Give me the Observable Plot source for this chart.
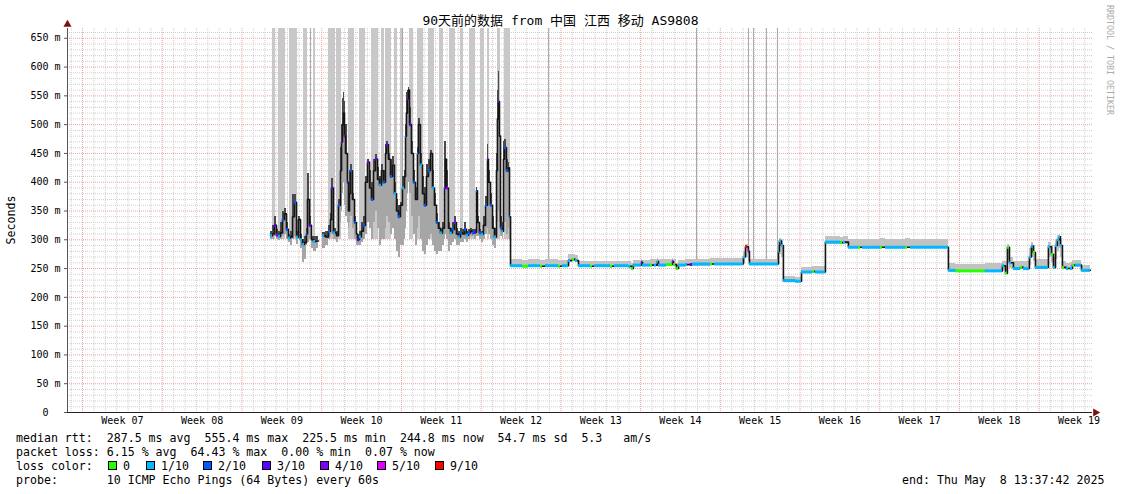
<!DOCTYPE html>
<html>
<head>
<meta charset="utf-8">
<script src="https://cdn.jsdelivr.net/npm/d3@7"></script>
<script src="https://cdn.jsdelivr.net/npm/@observablehq/plot@0.6"></script>
<style>
  body { margin: 0; background: #fff; }
  #wrap { position: relative; width: 1121px; height: 494px; overflow: hidden;
          font-family: 'DejaVu Sans Mono', 'Noto Sans CJK SC', monospace; color: #000; }
  #chart { position: absolute; left: 0; top: 0; }
  .abs { position: absolute; white-space: pre; line-height: 14px; font-size: 11.6px; }
  .title { position: absolute; left: 0; top: 13px; width: 1121px; text-align: center;
           font-size: 13px; line-height: 16px; white-space: pre; }
  .ylab { position: absolute; left: 11px; top: 220px; font-size: 11.6px; white-space: pre;
          transform: translate(-50%, -50%) rotate(-90deg); }
  .credit { position: absolute; left: 1110px; top: 60px; font-size: 8.3px; color: #aaa; white-space: pre;
            transform: translate(-50%, -50%) rotate(90deg); }
  .sq { position: absolute; width: 7px; height: 7px; border: 1px solid #000; top: 461px; }
</style>
</head>
<body>
<div id="wrap"><div id="chart"></div></div>
<script>
// ---------------- data (x = days since graph start, y = milliseconds) ----------------
const titleText = "90天前的数据 from 中国 江西 移动 AS9808";
const yAxisTitle = "Seconds";
const creditText = "RRDTOOL / TOBI OETIKER";

const weekLabels = ["Week 07","Week 08","Week 09","Week 10","Week 11","Week 12","Week 13",
                    "Week 14","Week 15","Week 16","Week 17","Week 18","Week 19"];
const firstWeekBoundary = 1.32;   // days after start of first week boundary
const spanDays = 90;
const yMax = 667;
const yTickValues = [0,50,100,150,200,250,300,350,400,450,500,550,600,650];

const lossColors = ["#26ff00","#00b8ff","#0059ff","#5e00ff","#7e00ff","#dd00ff","#ff0000"];
const lossLabels = ["0","1/10","2/10","3/10","4/10","5/10","9/10"];

const rttStats = "median rtt:  287.5 ms avg  555.4 ms max  225.5 ms min  244.8 ms now  54.7 ms sd  5.3   am/s";
const lossStats = "packet loss: 6.15 % avg  64.43 % max  0.00 % min  0.07 % now";
const probeText = "probe:       10 ICMP Echo Pings (64 Bytes) every 60s";
const endText = "end: Thu May  8 13:37:42 2025";

// [day, median, smoke low, smoke high, loss index (-1 = none)]
const spikyPeriod = [
  [17.82,307,300,315,1],[18.00,310,300,325,-1],[18.17,325,305,340,3],[18.35,308,300,318,4],
  [18.53,306,298,315,1],[18.70,312,300,330,-1],[18.88,335,305,350,2],[19.05,345,310,355,-1],
  [19.23,318,300,330,2],[19.40,303,295,310,1],[19.58,305,290,315,-1],[19.76,340,300,378,-1],
  [19.93,365,305,378,2],[20.11,305,292,315,1],[20.28,335,300,340,-1],[20.46,300,285,310,1],
  [20.63,292,260,300,1],[20.81,295,265,305,-1],[20.98,310,290,320,2],[21.07,370,295,415,-1],
  [21.25,325,300,340,3],[21.42,300,285,305,-1],[21.60,297,280,305,1],[21.86,298,285,305,-1],
  [22.04,null,null,null,-1],
  [22.39,307,285,312,1],[22.65,305,290,315,-1],[22.92,315,300,325,2],[23.09,335,305,345,-1],
  [23.18,390,310,407,3],[23.35,312,300,320,1],[23.62,307,295,315,-1],[23.79,360,305,370,2],
  [23.97,420,330,460,-1],[24.06,470,350,500,4],[24.15,500,380,545,-1],[24.23,520,400,555,-1],
  [24.32,480,360,540,4],[24.41,450,340,500,-1],[24.58,400,330,430,3],[24.67,350,320,370,-1],
  [24.76,380,330,420,-1],[24.85,420,340,430,2],[25.02,370,320,380,-1],[25.20,330,300,340,2],
  [25.37,310,290,320,-1],[25.46,300,290,310,3],[25.64,305,290,315,1],[25.81,315,295,330,-1],
  [25.99,325,300,340,2],[26.16,400,310,410,-1],[26.34,435,330,440,4],[26.52,390,320,420,-1],
  [26.69,370,300,400,2],[26.87,420,330,440,-1],[27.04,440,350,448,3],[27.22,405,320,425,-1],
  [27.39,395,290,410,1],[27.57,420,300,430,-1],[27.74,400,300,420,2],[27.92,450,320,465,-1],
  [28.01,465,340,470,3],[28.18,440,330,450,-1],[28.36,410,310,440,2],[28.54,430,320,445,-1],
  [28.71,380,300,400,1],[28.89,350,280,370,-1],[29.06,340,270,360,2],[29.24,360,290,365,-1],
  [29.41,390,290,410,1],[29.59,410,300,420,-1],[29.68,480,320,500,2],[29.76,520,350,555,-1],
  [29.85,545,380,560,4],[29.94,560,400,565,-1],[30.03,500,380,530,3],[30.20,450,340,470,-1],
  [30.38,400,310,420,2],[30.55,370,290,390,-1],[30.73,450,320,460,2],[30.82,500,340,510,-1],
  [30.99,430,300,450,1],[31.17,380,280,410,-1],[31.34,360,275,390,2],[31.52,410,290,430,-1],
  [31.70,420,300,440,2],[31.87,450,310,455,-1],[32.05,390,290,420,1],[32.22,360,280,380,-1],
  [32.40,330,275,345,2],[32.57,320,280,330,-1],[32.75,312,280,318,1],[32.93,320,290,330,-1],
  [33.10,390,300,470,4],[33.19,440,310,470,-1],[33.28,390,300,420,4],[33.45,320,280,330,-1],
  [33.63,312,290,320,1],[33.80,318,295,330,2],[33.98,330,300,340,4],[34.15,310,290,320,-1],
  [34.33,305,290,315,1],[34.51,312,295,320,2],[34.68,310,295,318,-1],[34.86,318,300,330,2],
  [35.03,308,295,315,1],[35.21,312,300,318,2],[35.38,315,305,320,-1],[35.56,312,305,318,2],
  [35.73,313,300,318,3],[35.91,385,305,390,2],[36.00,330,305,340,-1],[36.17,312,300,318,2],
  [36.35,310,295,315,1],[36.52,325,300,340,-1],[36.70,360,310,375,2],[36.88,440,320,465,4],
  [36.96,400,310,420,-1],[37.14,360,300,380,2],[37.32,320,290,340,-1],[37.49,305,285,320,1],
  [37.67,420,300,450,-1],[37.75,510,330,560,-1],[37.84,540,350,592,4],[37.93,480,330,520,-1],
  [38.02,320,305,340,2],[38.19,315,300,330,1],[38.28,440,320,470,-1],[38.37,460,330,475,2],
  [38.54,420,310,440,2],[38.72,425,320,435,-1],[38.81,340,300,400,2]
];

const steadyPeriod = [
  [38.90,255,252,265,1],[39.95,254,251,264,0],[40.48,255,252,266,1],[41.53,254,251,264,0],
  [41.97,255,252,265,1],[43.11,254,251,264,0],[43.46,255,252,264,1],[43.99,264,260,274,1],
  [44.34,266,262,275,0],[44.60,264,260,273,1],[44.87,255,252,262,1],[45.92,254,252,262,0],
  [46.27,255,252,263,1],[47.68,254,252,262,0],[48.03,255,252,262,1],[49.26,254,251,262,1],
  [49.52,250,248,258,0],[49.69,256,253,264,1],[50.40,261,255,266,3],[50.49,256,253,264,1],
  [51.19,256,253,265,0],[51.54,256,253,265,1],[51.80,262,255,268,1],[51.89,256,253,265,1],
  [52.59,257,254,265,0],[53.12,262,256,268,4],[53.21,257,254,265,0],[53.47,250,248,258,0],
  [53.65,256,253,264,1],[54.26,257,254,265,1],[54.70,257,254,266,3],[54.88,258,254,266,1],
  [56.46,258,255,267,0],[56.81,258,255,267,1],[59.35,270,258,280,1],[59.53,288,270,292,6],
  [59.79,280,262,290,4],[59.88,258,255,266,1],[62.43,280,260,290,1],[62.51,298,275,302,1],
  [62.69,290,270,300,1],[62.86,229,226,236,1],[63.92,228,225,235,1],[64.45,244,241,252,1],
  [65.41,245,242,253,0],[65.67,244,241,253,1],[66.55,296,292,305,1],[67.87,295,292,304,0],
  [68.13,296,292,305,1],[68.57,287,285,300,1],[69.45,287,285,300,0],[69.80,287,285,300,1],
  [71.38,287,285,302,0],[71.82,287,285,300,1],[73.58,287,285,302,0],[74.02,287,285,300,1],
  [77.35,247,244,258,1],[77.97,246,244,257,0],[80.60,246,244,258,1],[82.09,255,246,262,1],
  [82.36,242,240,262,0],[82.53,287,265,292,0],[82.71,260,250,270,1],[83.06,250,247,262,1],
  [83.67,252,248,262,0],[83.94,250,247,262,1],[84.46,270,255,285,1],[84.64,289,270,295,1],
  [84.81,278,262,290,0],[84.99,252,249,265,1],[86.13,288,270,295,1],[86.40,275,260,290,0],
  [86.57,252,250,270,1],[86.75,290,265,300,1],[86.92,300,280,308,1],[87.10,305,285,310,1],
  [87.19,290,270,300,1],[87.36,252,248,262,0],[87.71,250,248,258,1],[88.06,250,248,260,1],
  [88.24,256,252,264,0],[88.50,256,252,264,1],[89.03,247,244,256,1],[89.82,null,null,null,-1]
];

// periods where some pings exceeded the top of the graph: [start day, end day, lower value]
const offScaleBands = [
  [18.04,18.26,300],[18.53,19.14,300],[19.49,20.19,300],[20.68,21.03,300],[21.56,21.77,300],
  [22.92,23.53,300],[23.66,24.06,300],[24.67,25.20,300],[25.64,26.16,300],[26.65,27.31,300],
  [27.61,27.83,300],[27.96,28.49,300],[28.67,28.97,300],[29.24,29.50,300],[30.03,30.38,300],
  [30.73,31.26,300],[31.70,32.22,300],[32.66,33.01,300],[33.50,34.07,300],[34.51,34.77,300],
  [35.34,35.82,300],[36.26,36.61,300],[36.88,37.01,300],[37.75,38.02,300],[38.37,38.90,300]
];
// single-step off-scale pings: [day, lower value]
const offScaleSpikes = [
  [21.34,310],[29.41,330],[42.23,262],[55.23,265],[59.79,290],[60.23,265],[61.37,265],[62.34,265]
];

// ---------------- derived structures ----------------
function toSteps(list, next, period) {
  const out = [];
  for (let i = 0; i < list.length; i++) {
    const [start, med, lo, hi, loss] = list[i];
    const nxt = i + 1 < list.length ? list[i + 1] : next;
    if (!nxt) break;
    out.push({start, end: nxt[0], med, lo, hi, loss, period});
  }
  return out;
}
const steps = toSteps(spikyPeriod, steadyPeriod[0], "spiky").concat(toSteps(steadyPeriod, null, "steady"));
const present = steps.filter(s => s.med != null);
const spiky = present.filter(s => s.period === "spiky");
const steady = present.filter(s => s.period === "steady");
const linePts = [];
steps.forEach(s => {
  if (s.med == null) linePts.push({x: s.start, y: NaN});
  else linePts.push({x: s.start, y: s.med}, {x: s.end, y: s.med});
});

const weekStarts = d3.range(weekLabels.length).map(k => firstWeekBoundary + 7 * k);
const weekMids = weekStarts.map(d => d + 3.5);
const dayLines = d3.range(spanDays + 1).map(k => firstWeekBoundary - 1 + k)
  .filter(d => d > 0 && d < spanDays && !weekStarts.some(w => Math.abs(w - d) < 1e-6));
const minorY = d3.range(10, yMax, 10).filter(v => v % 50 !== 0);
const majorY = yTickValues.filter(v => v > 0);

const minorColor = "#cfcfcf";
const majorColor = "#f2a0a0";

const chart = Plot.plot({
  width: 1121,
  height: 430,
  marginLeft: 67,
  marginRight: 29,
  marginTop: 28,
  marginBottom: 18,
  x: {domain: [0, spanDays], label: null},
  y: {domain: [0, yMax], label: null},
  color: {type: "identity"},
  style: {fontFamily: "'DejaVu Sans Mono', monospace", fontSize: "10px", background: "#fff", color: "#000", overflow: "visible"},
  marks: [
    Plot.ruleY(minorY, {stroke: minorColor, strokeDasharray: "1,1"}),
    Plot.ruleX(dayLines, {stroke: minorColor, strokeDasharray: "1,1"}),
    Plot.ruleY(majorY, {stroke: majorColor, strokeDasharray: "1,1"}),
    Plot.ruleX(weekStarts, {stroke: majorColor, strokeDasharray: "1,1"}),
    Plot.rect(offScaleBands, {x1: d => d[0], x2: d => d[1], y1: d => d[2], y2: () => yMax, fill: "#c8c8c8", shapeRendering: "crispEdges"}),
    Plot.ruleX(offScaleSpikes, {x: d => d[0], y1: d => d[1], y2: () => yMax, stroke: "#a8a8a8"}),
    // smoke: steady period light, spiky period light below the median and dark above it
    Plot.rect(steady, {x1: "start", x2: "end", y1: "lo", y2: "hi", fill: "#c2c2c2", shapeRendering: "crispEdges"}),
    Plot.rect(spiky, {x1: "start", x2: "end", y1: "lo", y2: "med", fill: "#a6a6a6", shapeRendering: "crispEdges"}),
    Plot.rect(spiky, {x1: "start", x2: "end", y1: "med", y2: "hi", fill: "#4a4a4a", shapeRendering: "crispEdges"}),
    Plot.line(linePts, {x: "x", y: "y", stroke: "#151515", strokeWidth: 1.6}),
    Plot.ruleY(present.filter(s => s.loss >= 0), {
      y: "med", x1: "start",
      x2: s => (s.end - s.start) < 0.5 ? Math.min(s.end, s.start + 0.18) : s.end,
      stroke: s => lossColors[s.loss], strokeWidth: 3
    }),
    Plot.ruleX([0], {x: () => 0, y1: () => 0, y2: () => yMax, stroke: "#555"}),
    Plot.ruleY([0], {y: () => 0, stroke: "#222"}),
    Plot.dot([0], {x: () => 0, y: () => yMax, symbol: "triangle", r: 3, fill: "#7a1010", stroke: null, dy: -4}),
    Plot.dot([0], {x: () => spanDays, y: () => 0, symbol: "triangle", r: 3, fill: "#7a1010", stroke: null, rotate: 90, dx: 3}),
    Plot.axisY({ticks: yTickValues, tickSize: 3, tickPadding: 4, label: null, stroke: "#555",
      tickFormat: v => v === 0 ? "0\u00a0\u00a0" : v + " m"}),
    Plot.axisX({ticks: weekMids, tickSize: 0, tickPadding: 4, label: null,
      tickFormat: d => weekLabels[weekMids.indexOf(d)]})
  ]
});
document.getElementById("chart").appendChild(chart);

// ---------------- text overlays ----------------
const wrap = document.getElementById("wrap");
function addDiv(cls, text, style) {
  const el = document.createElement("div");
  el.className = cls;
  el.textContent = text;
  if (style) Object.assign(el.style, style);
  wrap.appendChild(el);
  return el;
}
addDiv("title", titleText);
addDiv("ylab", yAxisTitle);
addDiv("credit", creditText);
addDiv("abs", rttStats, {left: "16px", top: "431px"});
addDiv("abs", lossStats, {left: "16px", top: "445px"});
addDiv("abs", "loss color:", {left: "16px", top: "459px"});
const keyLeft = [108, 146, 203, 262, 320, 377, 435];
lossLabels.forEach((lab, i) => {
  const sq = document.createElement("div");
  sq.className = "sq";
  sq.style.left = keyLeft[i] + "px";
  sq.style.background = lossColors[i];
  wrap.appendChild(sq);
  addDiv("abs", lab, {left: (keyLeft[i] + 15) + "px", top: "459px"});
});
addDiv("abs", probeText, {left: "16px", top: "473px"});
addDiv("abs", endText, {left: "902px", top: "473px"});
</script>
</body>
</html>
